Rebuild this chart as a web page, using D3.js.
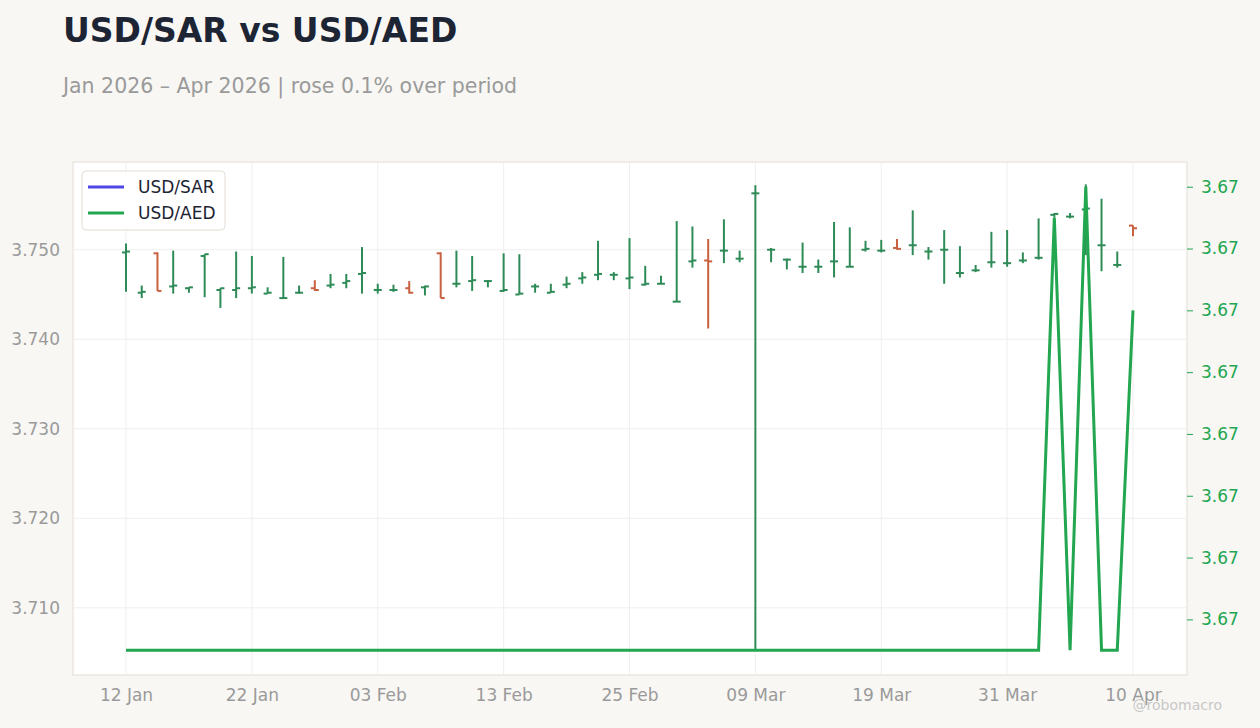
<!DOCTYPE html>
<html>
<head>
<meta charset="utf-8">
<script src="https://cdn.jsdelivr.net/npm/d3@7"></script>
<style>
  body { margin: 0; background: #f8f7f4; font-family: "DejaVu Sans", sans-serif; }
</style>
</head>
<body>
<div id="chart"></div>
<script>
/* USD/SAR daily OHLC (weekdays 12 Jan - 10 Apr 2026) */
const sarOpen = [3.7497,3.7452,3.7496,3.7459,3.7457,3.7493,3.7455,3.7455,3.7457,3.7451,3.7446,3.7452,3.7457,3.7460,3.7463,3.7473,3.7455,3.7455,3.7457,3.7458,3.7496,3.7462,3.7465,3.7465,3.7454,3.7450,3.7459,3.7452,3.7461,3.7468,3.7472,3.7472,3.7468,3.7461,3.7462,3.7442,3.7487,3.7488,3.7499,3.7490,3.7563,3.7500,3.7489,3.7481,3.7481,3.7487,3.7481,3.7500,3.7499,3.7502,3.7505,3.7498,3.7500,3.7474,3.7477,3.7486,3.7485,3.7488,3.7491,3.7539,3.7537,3.7545,3.7505,3.7483,3.7527];
const sarHigh = [3.7507,3.7460,3.7497,3.7499,3.7458,3.7495,3.7457,3.7498,3.7493,3.7458,3.7492,3.7460,3.7466,3.7473,3.7473,3.7503,3.7462,3.7461,3.7465,3.7460,3.7497,3.7499,3.7493,3.7466,3.7496,3.7495,3.7462,3.7462,3.7470,3.7475,3.7510,3.7475,3.7513,3.7482,3.7471,3.7532,3.7526,3.7512,3.7534,3.7499,3.7572,3.7502,3.7490,3.7508,3.7489,3.7531,3.7525,3.7510,3.7511,3.7512,3.7544,3.7503,3.7522,3.7504,3.7483,3.7520,3.7522,3.7497,3.7535,3.7541,3.7541,3.7573,3.7557,3.7498,3.7527];
const sarLow = [3.7453,3.7446,3.7454,3.7451,3.7452,3.7447,3.7435,3.7446,3.7451,3.7451,3.7445,3.7451,3.7454,3.7457,3.7457,3.7451,3.7451,3.7453,3.7451,3.7449,3.7446,3.7458,3.7454,3.7458,3.7453,3.7450,3.7452,3.7452,3.7457,3.7462,3.7466,3.7466,3.7456,3.7460,3.7462,3.7442,3.7480,3.7412,3.7485,3.7486,3.7053,3.7486,3.7478,3.7474,3.7474,3.7469,3.7481,3.7498,3.7497,3.7500,3.7494,3.7489,3.7462,3.7469,3.7475,3.7480,3.7481,3.7485,3.7489,3.7536,3.7535,3.7494,3.7476,3.7480,3.7515];
const sarClose = [3.7498,3.7453,3.7454,3.7460,3.7458,3.7495,3.7457,3.7457,3.7458,3.7452,3.7446,3.7452,3.7455,3.7461,3.7465,3.7474,3.7455,3.7455,3.7452,3.7459,3.7446,3.7462,3.7466,3.7465,3.7455,3.7451,3.7459,3.7453,3.7462,3.7469,3.7473,3.7472,3.7469,3.7462,3.7462,3.7442,3.7488,3.7487,3.7499,3.7490,3.7563,3.7500,3.7489,3.7481,3.7481,3.7487,3.7481,3.7501,3.7499,3.7501,3.7505,3.7498,3.7500,3.7474,3.7477,3.7486,3.7485,3.7488,3.7491,3.7540,3.7537,3.7546,3.7505,3.7483,3.7524];

/* USD/AED close */
const aedClose = [3.67205,3.67205,3.67205,3.67205,3.67205,3.67205,3.67205,3.67205,3.67205,3.67205,3.67205,3.67205,3.67205,3.67205,3.67205,3.67205,3.67205,3.67205,3.67205,3.67205,3.67205,3.67205,3.67205,3.67205,3.67205,3.67205,3.67205,3.67205,3.67205,3.67205,3.67205,3.67205,3.67205,3.67205,3.67205,3.67205,3.67205,3.67205,3.67205,3.67205,3.67205,3.67205,3.67205,3.67205,3.67205,3.67205,3.67205,3.67205,3.67205,3.67205,3.67205,3.67205,3.67205,3.67205,3.67205,3.67205,3.67205,3.67205,3.67205,3.67275,3.67205,3.67280,3.67205,3.67205,3.67260];

const leftTicks = [3.71, 3.72, 3.73, 3.74, 3.75];
const rightTicks = [3.6721, 3.6722, 3.6723, 3.6724, 3.6725, 3.6726, 3.6727, 3.6728];

/* trading days: weekdays only */
const dates = d3.utcDay.range(new Date(Date.UTC(2026, 0, 12)), new Date(Date.UTC(2026, 3, 11)))
    .filter(d => d.getUTCDay() !== 0 && d.getUTCDay() !== 6);

const data = dates.map((d, i) => ({
    i: i, date: d,
    open: sarOpen[i], high: sarHigh[i], low: sarLow[i], close: sarClose[i],
    aed: aedClose[i]
}));

const width = 1260, height = 728;
const plot = { left: 73, right: 1187, top: 162, bottom: 675 };

const svg = d3.select("#chart").append("svg")
    .attr("width", width).attr("height", height);

svg.append("rect").attr("width", width).attr("height", height).attr("fill", "#f8f7f4");

/* TITLE */
svg.append("text").attr("x", 63).attr("y", 42)
    .attr("font-size", 33).attr("font-weight", "bold").attr("fill", "#1d2433")
    .text("USD/SAR vs USD/AED");
svg.append("text").attr("x", 63).attr("y", 93)
    .attr("font-size", 20.5).attr("fill", "#9a9a9a")
    .text("Jan 2026 – Apr 2026 | rose 0.1% over period");

/* SCALES */
const x = d3.scaleLinear().domain([0, 64]).range([126, 1133]);
const y = d3.scaleLinear().domain([3.7025, 3.7598]).range([plot.bottom, plot.top]);
const y2 = d3.scaleLinear().domain([3.67201, 3.67284]).range([plot.bottom, plot.top]);

svg.append("rect")
    .attr("x", plot.left).attr("y", plot.top)
    .attr("width", plot.right - plot.left).attr("height", plot.bottom - plot.top)
    .attr("fill", "#fff").attr("stroke", "#e3ddd5");

const xTickIdx = d3.range(0, 65, 8);

/* GRID */
const grid = svg.append("g").attr("stroke", "#efefef");
grid.selectAll(".h").data(leftTicks).enter().append("line")
    .attr("x1", plot.left + 1).attr("x2", plot.right - 1)
    .attr("y1", d => y(d)).attr("y2", d => y(d));
grid.selectAll(".v").data(xTickIdx).enter().append("line")
    .attr("y1", plot.top + 1).attr("y2", plot.bottom - 1)
    .attr("x1", d => x(d)).attr("x2", d => x(d));

/* AXES */
const fmtDate = d3.utcFormat("%d %b");
const xAxis = svg.append("g").attr("transform", `translate(0,${plot.bottom})`)
    .call(d3.axisBottom(x).tickValues(xTickIdx).tickFormat(i => fmtDate(dates[i])).tickSize(0).tickPadding(14));
const yAxis = svg.append("g").attr("transform", `translate(${plot.left},0)`)
    .call(d3.axisLeft(y).tickValues(leftTicks).tickFormat(d3.format(".3f")).tickSize(0).tickPadding(13));
const y2Axis = svg.append("g").attr("transform", `translate(${plot.right},0)`)
    .call(d3.axisRight(y2).tickValues(rightTicks).tickFormat(d3.format(".2f")).tickSize(6).tickPadding(8));
[xAxis, yAxis, y2Axis].forEach(a => {
    a.select(".domain").remove();
    a.selectAll("text").attr("font-size", 17).attr("font-family", "DejaVu Sans, sans-serif").attr("fill", "#9a9a9a");
});
y2Axis.selectAll("line").attr("stroke", "#22a650");
y2Axis.selectAll("text").attr("fill", "#22a650");

/* OHLC BARS */
const up = "#2e8b57", down = "#c9603f";
const bars = svg.append("g").selectAll("g").data(data).enter().append("g")
    .attr("stroke", d => d.close >= d.open ? up : down)
    .attr("stroke-width", 2);
bars.append("line").attr("x1", d => x(d.i)).attr("x2", d => x(d.i))
    .attr("y1", d => y(d.high)).attr("y2", d => y(d.low));
bars.append("line").attr("x1", d => x(d.i) - 4).attr("x2", d => x(d.i))
    .attr("y1", d => y(d.open)).attr("y2", d => y(d.open));
bars.append("line").attr("x1", d => x(d.i)).attr("x2", d => x(d.i) + 4)
    .attr("y1", d => y(d.close)).attr("y2", d => y(d.close));

/* AED LINE */
svg.append("path").datum(data)
    .attr("fill", "none").attr("stroke", "#22a650").attr("stroke-width", 3)
    .attr("d", d3.line().x(d => x(d.i)).y(d => y2(d.aed)));

/* LEGEND */
const legend = svg.append("g").attr("transform", "translate(82,171)");
legend.append("rect").attr("width", 143).attr("height", 59).attr("rx", 4)
    .attr("fill", "#fff").attr("fill-opacity", 0.85).attr("stroke", "#e3ddd5");
[["USD/SAR", "#4f46e5"], ["USD/AED", "#22a650"]].forEach((s, k) => {
    const gy = 16 + k * 26;
    legend.append("line").attr("x1", 6).attr("x2", 42).attr("y1", gy).attr("y2", gy)
        .attr("stroke", s[1]).attr("stroke-width", 3);
    legend.append("text").attr("x", 56).attr("y", gy + 6).attr("font-size", 17)
        .attr("fill", "#1d2433").text(s[0]);
});

/* WATERMARK */
svg.append("text").attr("x", 1222).attr("y", 710).attr("text-anchor", "end")
    .attr("font-size", 14).attr("fill", "#c8c8c8").text("@robomacro");
</script>
</body>
</html>
